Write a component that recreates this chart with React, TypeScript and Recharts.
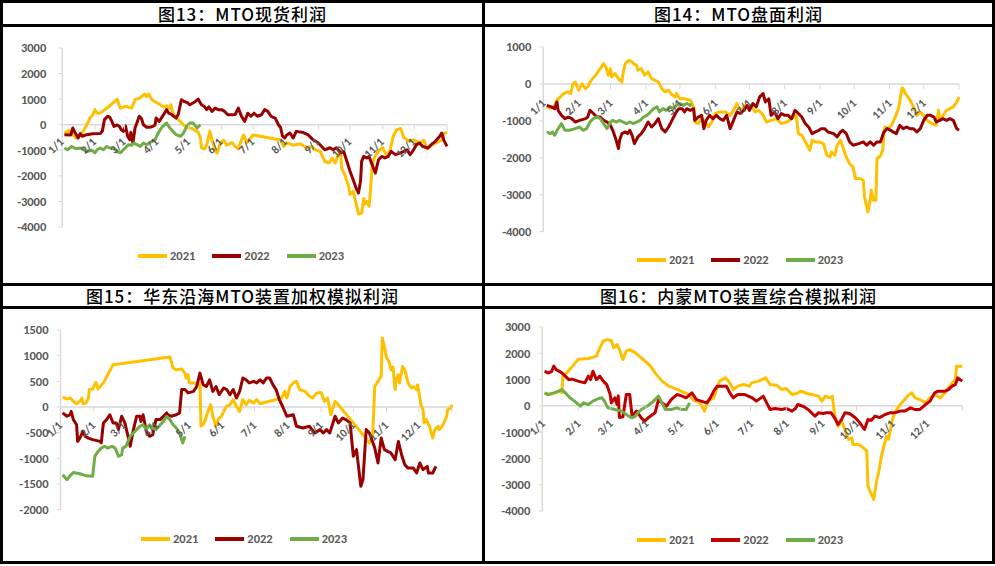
import React from 'react';
import { ComposedChart, Line, XAxis, YAxis, ReferenceLine, Scatter } from 'recharts';

type P = [number, number];

const MONTH_DAYS = [0, 31, 59, 90, 120, 151, 181, 212, 243, 273, 304, 334, 365];
const MONTH_LABELS = ['1/1', '2/1', '3/1', '4/1', '5/1', '6/1', '7/1', '8/1', '9/1', '10/1', '11/1', '12/1', ''];
const SERIES_NAMES = ['2021', '2022', '2023'];
const GOLD = '#FFC000';
const DARK_RED = '#990000';
const RED = '#C00000';
const GREEN = '#70AD47';

const Y_TICKS_A = [3000, 2000, 1000, 0, -1000, -2000, -3000, -4000];
const Y_TICKS_B = [1000, 0, -1000, -2000, -3000, -4000];
const Y_TICKS_C = [1500, 1000, 500, 0, -500, -1000, -1500, -2000];

// 图13 MTO现货利润
const p13_2021: P[] = [[2,-330],[6,-230],[10,-390],[13,-520],[17,-390],[20,-260],[24,65],[26,260],[29,390],[31,590],[33,450],[36,460],[44,700],[52,1000],[55,650],[60,720],[66,650],[69,980],[74,1050],[78,1200],[80,1100],[82,1200],[85,980],[88,900],[93,780],[96,690],[99,740],[102,650],[103,780],[105,450],[110,200],[115,0],[118,-100],[123,-150],[129,-300],[131,-500],[132,-900],[135,-950],[137,-800],[140,-250],[142,-600],[145,-980],[147,-1110],[150,-700],[153,-600],[156,-800],[161,-700],[164,-850],[167,-950],[170,-600],[172,-400],[175,-700],[178,-550],[181,-400],[207,-600],[210,-850],[213,-700],[219,-800],[226,-750],[232,-900],[237,-850],[240,-980],[245,-1050],[249,-1430],[253,-1500],[256,-1300],[259,-1500],[262,-1150],[264,-1000],[265,-1700],[268,-1950],[270,-2200],[272,-2470],[273,-2730],[276,-2600],[281,-3490],[284,-3450],[286,-2890],[287,-3100],[289,-3000],[291,-3190],[292,-2800],[294,-1560],[297,-1200],[301,-1000],[304,-900],[308,-1240],[311,-1000],[314,-450],[317,-200],[321,-150],[324,-500],[329,-650],[333,-600],[340,-700],[343,-600],[346,-950],[351,-780],[355,-700],[360,-600],[362,-350],[365,-300]];
const p13_2022: P[] = [[2,-390],[8,-400],[10,-130],[12,-300],[15,-520],[17,-350],[19,-450],[23,-390],[29,-350],[36,-340],[38,-250],[40,200],[43,330],[45,300],[47,130],[49,-65],[52,-10],[54,-60],[56,-200],[58,-260],[60,-50],[62,-450],[64,-590],[65,-300],[67,-720],[69,-130],[71,100],[73,330],[75,250],[77,0],[80,-100],[83,-100],[86,-65],[88,-10],[89,260],[92,130],[96,390],[99,590],[101,450],[104,390],[108,260],[110,400],[113,980],[116,900],[119,850],[121,780],[126,900],[129,1000],[132,780],[135,700],[137,590],[139,700],[142,520],[145,650],[148,590],[151,590],[154,520],[157,390],[161,390],[164,400],[167,650],[170,330],[173,130],[176,450],[179,330],[182,450],[185,330],[189,390],[192,590],[195,520],[198,330],[202,260],[205,0],[207,-100],[209,-450],[211,-520],[213,-400],[216,-325],[219,-520],[222,-260],[228,-300],[233,-390],[238,-590],[243,-716],[249,-980],[254,-900],[257,-980],[260,-900],[264,-1100],[267,-1050],[270,-1430],[273,-1820],[276,-2150],[279,-2500],[281,-2670],[283,-2200],[284,-1430],[286,-1240],[289,-1300],[291,-1240],[294,-1560],[297,-1890],[300,-1370],[303,-1240],[306,-1300],[309,-1250],[312,-1040],[316,-1170],[321,-1100],[324,-1040],[327,-980],[330,-1170],[333,-1000],[336,-780],[339,-720],[342,-850],[347,-910],[350,-780],[354,-650],[358,-455],[360,-330],[362,-600],[365,-850]];
const p13_2023: P[] = [[2,-910],[5,-980],[9,-850],[13,-940],[17,-910],[20,-980],[24,-1040],[28,-1000],[31,-1100],[33,-980],[36,-910],[39,-980],[42,-850],[45,-910],[48,-910],[52,-1040],[55,-1100],[58,-980],[61,-850],[63,-780],[66,-800],[68,-720],[71,-780],[74,-850],[77,-720],[80,-780],[85,-650],[88,-590],[91,-330],[94,-130],[97,0],[99,65],[102,-130],[105,-260],[108,-390],[112,-455],[115,-330],[118,-65],[121,65],[124,65],[128,-130],[131,0]];

// 图14 MTO盘面利润
const p14_2021: P[] = [[3,-620],[6,-660],[9,-620],[12,-440],[15,-350],[18,-260],[21,-215],[24,-260],[26,0],[28,50],[31,-170],[34,0],[37,-125],[39,-80],[42,100],[46,235],[50,415],[53,550],[55,460],[57,235],[59,415],[60,190],[63,280],[66,145],[69,55],[70,280],[72,550],[75,640],[78,600],[79,550],[82,505],[83,370],[86,415],[89,235],[92,325],[95,145],[98,100],[101,55],[104,-125],[107,-215],[110,-170],[113,-300],[116,-350],[117,-260],[120,-400],[124,-400],[129,-440],[132,-620],[133,-1030],[136,-1075],[139,-940],[142,-1030],[145,-1165],[148,-1030],[151,-800],[154,-760],[160,-760],[164,-850],[167,-715],[170,-530],[171,-620],[174,-715],[177,-580],[180,-670],[183,-620],[186,-760],[189,-715],[192,-800],[196,-1030],[200,-985],[205,-940],[209,-1075],[214,-1030],[218,-940],[222,-850],[224,-1345],[227,-1390],[231,-1615],[234,-1795],[236,-1525],[239,-1570],[242,-1570],[246,-1615],[249,-1930],[252,-1975],[253,-1840],[256,-1930],[258,-1660],[261,-1525],[263,-1705],[266,-1975],[269,-2160],[272,-2250],[274,-2560],[278,-2560],[281,-2610],[282,-3060],[285,-3465],[287,-3150],[288,-2880],[290,-3150],[292,-3150],[293,-2020],[296,-1950],[298,-1800],[299,-1390],[300,-1165],[303,-1210],[306,-1100],[309,-900],[312,-650],[315,-110],[316,-125],[318,-260],[320,-350],[322,-440],[325,-620],[328,-850],[331,-760],[334,-850],[337,-985],[341,-1075],[345,-1120],[347,-715],[348,-985],[351,-850],[354,-715],[357,-670],[360,-620],[363,-490],[365,-350]];
const p14_2022: P[] = [[3,-580],[7,-620],[10,-670],[12,-490],[13,-715],[16,-850],[19,-940],[22,-900],[25,-940],[28,-1030],[32,-985],[37,-940],[39,-895],[41,-715],[44,-800],[47,-895],[50,-895],[53,-985],[56,-1030],[59,-1120],[61,-1255],[64,-1525],[66,-1750],[67,-1525],[69,-1345],[72,-1300],[74,-1345],[76,-1255],[78,-1390],[80,-1615],[83,-1435],[86,-1345],[89,-1210],[92,-1030],[95,-1165],[98,-1075],[101,-940],[104,-1210],[107,-1300],[110,-1165],[113,-985],[116,-800],[119,-670],[122,-670],[124,-760],[126,-670],[129,-715],[132,-670],[133,-985],[136,-895],[139,-850],[141,-1210],[143,-985],[146,-850],[149,-940],[152,-850],[155,-940],[158,-985],[161,-850],[164,-1210],[167,-985],[170,-760],[173,-800],[176,-715],[179,-580],[181,-715],[184,-530],[187,-620],[190,-350],[193,-260],[195,-490],[198,-400],[200,-850],[203,-760],[206,-940],[209,-800],[212,-850],[215,-850],[218,-940],[221,-715],[224,-800],[227,-895],[230,-1075],[233,-1165],[236,-1345],[239,-1300],[242,-1255],[244,-1210],[247,-1210],[250,-1300],[255,-1345],[258,-1435],[261,-1300],[263,-1255],[266,-1345],[269,-1570],[272,-1660],[277,-1615],[281,-1570],[284,-1660],[287,-1570],[290,-1660],[293,-1570],[296,-1570],[299,-1300],[302,-1210],[305,-1255],[307,-1300],[310,-1345],[313,-1120],[316,-1210],[319,-1165],[322,-1210],[325,-1210],[328,-1300],[331,-1210],[334,-985],[337,-850],[340,-850],[343,-895],[345,-1030],[348,-985],[351,-940],[354,-985],[357,-940],[360,-985],[363,-1210],[365,-1255]];
const p14_2023: P[] = [[3,-1300],[6,-1345],[8,-1300],[10,-1390],[13,-1210],[16,-1075],[19,-1255],[23,-1255],[28,-1210],[32,-1165],[35,-1255],[38,-1210],[41,-1030],[44,-940],[47,-895],[50,-940],[53,-1075],[56,-1210],[59,-1030],[61,-985],[64,-1030],[67,-985],[70,-1030],[73,-1075],[76,-1030],[79,-1075],[82,-1030],[85,-985],[88,-895],[91,-850],[94,-760],[97,-670],[100,-620],[102,-760],[105,-670],[108,-715],[111,-620],[114,-670],[117,-580],[120,-530],[123,-580],[126,-530],[129,-580],[130,-530]];

// 图15 华东沿海MTO装置加权模拟利润
const p15_2021: P[] = [[2,195],[6,155],[9,175],[12,110],[15,65],[18,110],[20,175],[21,65],[24,80],[26,175],[27,340],[30,350],[33,480],[35,350],[40,470],[49,825],[102,975],[105,760],[108,725],[113,740],[116,660],[117,565],[119,630],[120,470],[124,470],[127,455],[130,470],[131,-375],[134,-310],[137,-115],[140,45],[142,-180],[145,-375],[147,-245],[150,-180],[153,-50],[155,15],[158,45],[161,145],[164,15],[167,-85],[170,145],[173,45],[176,130],[180,80],[183,145],[186,65],[201,145],[206,175],[209,305],[211,175],[214,400],[217,470],[220,500],[223,340],[228,305],[232,210],[235,175],[239,275],[243,285],[246,110],[249,175],[252,-150],[256,110],[259,45],[286,-640],[288,-700],[291,-570],[293,400],[296,500],[299,600],[300,1345],[302,1180],[304,955],[306,900],[307,825],[308,725],[310,780],[312,340],[313,530],[315,630],[316,470],[319,790],[321,725],[324,470],[327,370],[329,400],[332,340],[333,435],[335,175],[336,45],[338,-50],[339,-310],[341,-245],[344,-375],[347,-605],[349,-440],[352,-375],[353,-440],[356,-375],[360,-180],[361,-50],[364,-20],[365,45]];
const p15_2022: P[] = [[2,-115],[6,-180],[9,-150],[10,-85],[12,-245],[15,-345],[16,-670],[18,-605],[21,-475],[23,-570],[26,-605],[30,-635],[37,-670],[38,-700],[40,-310],[43,-245],[46,-150],[49,-310],[52,-310],[54,-440],[57,-180],[60,-310],[63,-570],[65,-765],[68,-440],[71,-180],[74,-180],[75,-280],[77,-150],[80,-475],[83,-570],[86,-540],[89,-245],[93,-245],[96,-180],[99,-115],[100,-150],[103,-180],[108,-150],[111,-115],[113,340],[116,340],[119,275],[124,305],[127,400],[130,660],[133,435],[136,400],[139,530],[142,305],[145,400],[148,240],[152,370],[155,340],[158,240],[161,340],[164,175],[167,305],[170,565],[173,530],[176,470],[180,500],[183,470],[186,530],[189,470],[192,565],[195,565],[198,435],[201,340],[204,145],[207,15],[211,-180],[217,-150],[220,-375],[226,-410],[232,-375],[237,-505],[242,-440],[245,-505],[248,-440],[251,-505],[256,-180],[259,-310],[263,-215],[266,-245],[270,-310],[273,-960],[276,-830],[280,-1545],[282,-1415],[285,-440],[288,-505],[293,-800],[296,-1090],[299,-605],[302,-830],[305,-865],[308,-895],[312,-1025],[315,-670],[318,-930],[321,-1125],[324,-1190],[329,-1190],[332,-1285],[335,-1090],[338,-1220],[342,-1155],[343,-1285],[347,-1285],[350,-1155]];
const p15_2023: P[] = [[2,-1320],[6,-1415],[9,-1340],[12,-1275],[18,-1300],[24,-1340],[30,-1350],[32,-960],[35,-865],[38,-800],[41,-765],[44,-800],[48,-765],[51,-800],[54,-960],[57,-930],[58,-800],[61,-765],[65,-570],[68,-505],[71,-440],[74,-375],[77,-345],[80,-440],[83,-345],[86,-410],[89,-440],[93,-345],[96,-280],[99,-180],[102,-245],[105,-345],[108,-410],[111,-505],[114,-700],[116,-570]];

// 图16 内蒙MTO装置综合模拟利润
const p16_2021: P[] = [[2,495],[6,430],[11,495],[15,560],[17,500],[18,1190],[21,1250],[25,1445],[28,1600],[31,1760],[36,1790],[40,1800],[47,1890],[50,2205],[53,2460],[56,2520],[60,2485],[62,2205],[65,2330],[67,2140],[70,1760],[73,2080],[76,2140],[81,2015],[86,1825],[91,1635],[94,1510],[98,1255],[104,940],[110,750],[118,620],[127,430],[131,240],[137,115],[141,-200],[144,180],[149,305],[152,685],[154,940],[159,1065],[162,940],[166,620],[170,750],[175,810],[180,750],[182,875],[188,940],[194,1065],[198,810],[204,785],[208,620],[212,660],[217,430],[221,470],[225,560],[230,470],[234,430],[240,370],[243,180],[246,370],[250,305],[252,370],[254,-330],[257,-775],[260,-580],[263,-900],[266,-1280],[269,-1215],[270,-1470],[275,-1470],[279,-1600],[282,-1725],[283,-3055],[286,-3370],[288,-3560],[291,-2740],[292,-2610],[295,-1850],[298,-1345],[299,-1155],[301,-1270],[304,-580],[306,-265],[311,50],[315,240],[318,400],[321,495],[324,305],[328,240],[333,115],[337,305],[341,430],[346,305],[350,495],[354,750],[359,1000],[360,1510],[365,1510]];
const p16_2022: P[] = [[2,1320],[5,1250],[8,1300],[10,1510],[12,1380],[14,1330],[17,1255],[20,1130],[23,1000],[26,1015],[31,940],[37,875],[40,1130],[42,1000],[44,1320],[47,1000],[50,1130],[53,940],[56,810],[59,430],[60,115],[63,305],[65,50],[66,380],[67,-444],[70,-420],[73,430],[76,430],[78,-380],[82,-200],[86,-455],[89,-580],[92,-455],[98,-265],[101,240],[104,115],[108,-13],[112,240],[117,430],[121,380],[125,305],[130,495],[134,240],[138,180],[143,115],[146,305],[149,560],[152,750],[156,750],[160,750],[163,495],[166,305],[170,430],[176,430],[182,317],[186,180],[192,370],[195,115],[198,-140],[202,-100],[208,-140],[212,-100],[217,-200],[220,-100],[222,50],[227,-25],[231,-140],[234,-265],[237,-390],[240,-265],[244,-290],[247,-265],[251,-265],[254,-455],[257,-710],[260,-520],[263,-265],[267,-290],[272,-455],[276,-645],[280,-900],[283,-520],[286,-545],[289,-390],[293,-445],[298,-330],[302,-265],[306,-265],[311,-200],[315,-200],[320,-75],[324,-140],[328,-140],[333,50],[337,180],[341,495],[344,560],[350,560],[353,620],[356,750],[359,810],[361,1065],[365,940]];
const p16_2023: P[] = [[2,495],[5,430],[10,495],[14,560],[17,620],[20,495],[24,305],[28,180],[33,-13],[36,115],[40,50],[44,180],[49,280],[52,305],[54,180],[57,-75],[63,-140],[69,-200],[75,-390],[78,-455],[81,-390],[83,-265],[86,-140],[91,-13],[95,115],[98,240],[101,370],[104,115],[107,-140],[112,-140],[117,-75],[121,-140],[125,-140],[128,115]];

const FONT = 'Carlito, Lato, "Liberation Sans", sans-serif';
const CJK = '"Noto Sans CJK SC", "Noto Sans", sans-serif';
const TEXT_GRAY = '#595959';
const AXIS_GRAY = '#D9D9D9';

const tickData = MONTH_DAYS.map((d, i) => ({ d, v: 0, label: MONTH_LABELS[i] }));

type Cfg = {
  title: string;
  yDomain: [number, number];
  yTicks: number[];
  series: P[][];
  colors: string[];
  chart: { left: number; top: number; width: number; height: number };
  plot: { x0: number; x1: number; yTop: number; yBot: number };
  tickMargin: number;
  labelDx: number;
  labelDy: number;
  legend: { cx: number; cy: number };
  titleBox: { left: number; top: number; width: number; height: number };
};

const panels: Cfg[] = [
  {
    title: '图13：MTO现货利润', yDomain: [-4000, 3000], yTicks: Y_TICKS_A,
    series: [p13_2021, p13_2022, p13_2023], colors: [GOLD, DARK_RED, GREEN],
    chart: { left: 3, top: 27, width: 479, height: 234 },
    plot: { x0: 62.3, x1: 447, yTop: 48, yBot: 227 },
    tickMargin: 12, labelDx: 2, labelDy: 18, legend: { cx: 241, cy: 256 },
    titleBox: { left: 3, top: 3, width: 479, height: 21 },
  },
  {
    title: '图14：MTO盘面利润', yDomain: [-4000, 1000], yTicks: Y_TICKS_B,
    series: [p14_2021, p14_2022, p14_2023], colors: [GOLD, DARK_RED, GREEN],
    chart: { left: 485, top: 27, width: 507, height: 234 },
    plot: { x0: 543.3, x1: 959, yTop: 47, yBot: 231.7 },
    tickMargin: 8, labelDx: 3, labelDy: 20, legend: { cx: 740, cy: 260 },
    titleBox: { left: 485, top: 3, width: 507, height: 21 },
  },
  {
    title: '图15：华东沿海MTO装置加权模拟利润', yDomain: [-2000, 1500], yTicks: Y_TICKS_C,
    series: [p15_2021, p15_2022, p15_2023], colors: [GOLD, DARK_RED, GREEN],
    chart: { left: 3, top: 309, width: 479, height: 250 },
    plot: { x0: 60.5, x1: 452, yTop: 330, yBot: 509.7 },
    tickMargin: 8, labelDx: 2.5, labelDy: 19, legend: { cx: 244, cy: 539 },
    titleBox: { left: 3, top: 286, width: 479, height: 20 },
  },
  {
    title: '图16：内蒙MTO装置综合模拟利润', yDomain: [-4000, 3000], yTicks: Y_TICKS_A,
    series: [p16_2021, p16_2022, p16_2023], colors: [GOLD, RED, GREEN],
    chart: { left: 485, top: 309, width: 507, height: 250 },
    plot: { x0: 542.3, x1: 962.3, yTop: 327, yBot: 511 },
    tickMargin: 8, labelDx: 3.5, labelDy: 18.5, legend: { cx: 740, cy: 540 },
    titleBox: { left: 485, top: 286, width: 507, height: 20 },
  },
];

function makeTickShape(dx: number, dy: number) {
  return (props: any) => {
    const { cx, cy, payload } = props;
    if (cx == null || cy == null) return <g />;
    const ax = cx + dx;
    const ay = cy + dy;
    return (
      <g>
        <line x1={cx} y1={cy} x2={cx} y2={cy + 5} stroke={AXIS_GRAY} strokeWidth={1} />
        {payload && payload.label ? (
          <text
            x={ax}
            y={ay}
            transform={`rotate(-45 ${ax} ${ay})`}
            textAnchor="end"
            fill={TEXT_GRAY}
            fontSize={11.5}
            fontWeight={700}
            fontFamily={FONT}
          >
            {payload.label}
          </text>
        ) : null}
      </g>
    );
  };
}

function Panel({ cfg }: { cfg: Cfg }) {
  const { chart, plot } = cfg;
  const marginLeft = 2;
  const yAxisWidth = plot.x0 - chart.left - marginLeft;
  const margin = {
    left: marginLeft,
    right: chart.left + chart.width - plot.x1,
    top: plot.yTop - chart.top,
    bottom: chart.top + chart.height - plot.yBot,
  };
  return (
    <div style={{ position: 'absolute', left: chart.left, top: chart.top }}>
      <ComposedChart width={chart.width} height={chart.height} margin={margin}>
        <XAxis type="number" dataKey="d" domain={[0, 365]} hide />
        <YAxis
          type="number"
          dataKey="v"
          domain={cfg.yDomain}
          ticks={cfg.yTicks}
          interval={0}
          width={yAxisWidth}
          axisLine={{ stroke: AXIS_GRAY, strokeWidth: 1.5 }}
          tickLine={{ stroke: AXIS_GRAY }}
          tickSize={4}
          tickMargin={cfg.tickMargin}
          tick={{ fill: TEXT_GRAY, fontSize: 12.5, fontWeight: 700, fontFamily: FONT }}
        />
        <ReferenceLine y={0} stroke={AXIS_GRAY} strokeWidth={1.5} />
        <Scatter
          data={tickData}
          dataKey="v"
          isAnimationActive={false}
          legendType="none"
          shape={makeTickShape(cfg.labelDx, cfg.labelDy)}
        />
        {cfg.series.map((s, i) => (
          <Line
            key={SERIES_NAMES[i]}
            data={s.map(([d, v]) => ({ d, v }))}
            dataKey="v"
            name={SERIES_NAMES[i]}
            type="linear"
            stroke={cfg.colors[i]}
            strokeWidth={3}
            strokeLinejoin="round"
            dot={false}
            activeDot={false}
            isAnimationActive={false}
          />
        ))}
      </ComposedChart>
    </div>
  );
}

function LegendRow({ cfg }: { cfg: Cfg }) {
  const w = 240;
  return (
    <div
      style={{
        position: 'absolute',
        left: cfg.legend.cx - w / 2,
        top: cfg.legend.cy - 9,
        width: w,
        height: 18,
        display: 'flex',
        justifyContent: 'center',
        alignItems: 'center',
        gap: 17,
      }}
    >
      {SERIES_NAMES.map((n, i) => (
        <div key={n} style={{ display: 'flex', alignItems: 'center' }}>
          <div style={{ width: 29, height: 4, background: cfg.colors[i] }} />
          <span
            style={{
              marginLeft: 3,
              fontFamily: FONT,
              fontWeight: 700,
              fontSize: 12.5,
              color: TEXT_GRAY,
              lineHeight: '18px',
            }}
          >
            {n}
          </span>
        </div>
      ))}
    </div>
  );
}

const rect = (left: number, top: number, width: number, height: number) => (
  <div style={{ position: 'absolute', left, top, width, height, background: '#000' }} />
);

export default function App() {
  return (
    <div
      style={{
        position: 'absolute',
        left: 0,
        top: 0,
        width: 995,
        height: 566,
        background: '#fff',
        overflow: 'hidden',
      }}
    >
      {panels.map((p) => (
        <div
          key={p.title}
          style={{
            position: 'absolute',
            left: p.titleBox.left,
            top: p.titleBox.top,
            width: p.titleBox.width,
            height: p.titleBox.height,
            lineHeight: p.titleBox.height + 'px',
            textAlign: 'center',
            fontFamily: CJK,
            fontWeight: 500,
            fontSize: 17,
            letterSpacing: 1,
            color: '#000',
          }}
        >
          {p.title}
        </div>
      ))}
      {panels.map((p) => (
        <Panel key={p.title + 'c'} cfg={p} />
      ))}
      {panels.map((p) => (
        <LegendRow key={p.title + 'l'} cfg={p} />
      ))}
      {rect(0, 0, 995, 3)}
      {rect(0, 24, 995, 3)}
      {rect(0, 283, 995, 3)}
      {rect(0, 306, 995, 3)}
      {rect(0, 561, 995, 3)}
      {rect(0, 0, 3, 564)}
      {rect(482, 0, 3, 564)}
      {rect(992, 0, 3, 564)}
    </div>
  );
}
